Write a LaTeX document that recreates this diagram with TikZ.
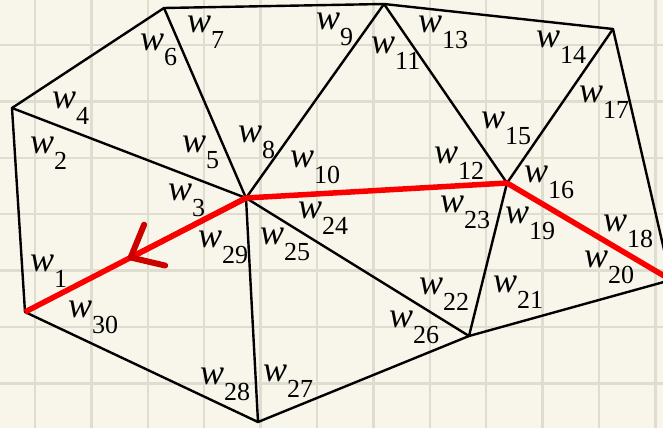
\documentclass[tikz,border=0pt]{standalone}
\usepackage{fontspec}
\setmainfont{Liberation Serif}
\usepackage{tikz}
\usetikzlibrary{arrows.meta,calc}
\definecolor{bgcream}{RGB}{248,246,234}
\definecolor{gridgray}{RGB}{222,221,208}
\definecolor{pathred}{RGB}{250,0,0}
\definecolor{arrowred}{RGB}{205,0,0}
\newcommand{\wl}[1]{\textit{w}\raisebox{-16pt}{\fontsize{26}{26}\selectfont #1}}

\begin{document}
\begin{tikzpicture}[x=1pt, y=-1pt]
    \tikzset{
        gridline/.style={draw=gridgray, line width=2.5pt},
        edge/.style={draw=black, line width=2.4pt, line cap=round, line join=round},
        redpath/.style={draw=pathred, line width=5.5pt, line join=round},
        wlabel/.style={
            anchor=base west, inner sep=0pt,
            font=\fontsize{36}{36}\selectfont
        },
    }

    % ==== Background and grid ====
    \useasboundingbox (0,0) rectangle (663,428);
    \fill[bgcream] (0,0) rectangle (663,428);
    \clip (0,0) rectangle (663,428);
    \foreach \gx in {0,...,11}
        \draw[gridline] ({35+56.4*\gx},0) -- ({35+56.4*\gx},428);
    \foreach \gy in {0,...,6}
        \draw[gridline] (0,{45+56.4*\gy}) -- (663,{45+56.4*\gy});

    % ==== Vertices ====
    \coordinate (A) at (12,108);
    \coordinate (B) at (164,8);
    \coordinate (C) at (384,4);
    \coordinate (D) at (613,29);
    \coordinate (E) at (671,280);
    \coordinate (F) at (246,198);
    \coordinate (G) at (507,183);
    \coordinate (H) at (25,312);
    \coordinate (I) at (258,422);
    \coordinate (J) at (469,336);
    \coordinate (M) at ($(F)!0.534!(H)$);

    % ==== Black edges ====
    \draw[edge] (A) -- (B) -- (C) -- (D) -- (E) -- (J) -- (I) -- (H) -- cycle;
    \draw[edge] (A) -- (F);
    \draw[edge] (B) -- (F);
    \draw[edge] (C) -- (F);
    \draw[edge] (C) -- (G);
    \draw[edge] (D) -- (G);
    \draw[edge] (G) -- (J);
    \draw[edge] (F) -- (J);
    \draw[edge] (F) -- (I);

    % ==== Red path ====
    \draw[redpath] (H) -- (F) -- (G) -- (E);
    \draw[redpath, -{Straight Barb[length=27pt, width=46pt, round, color=arrowred, line width=6pt]}] (F) -- (M);

    % ==== Weights ====
    \node[wlabel] (l1) at (30,271) {\wl{1}};
    \node[wlabel] (l2) at (30,153) {\wl{2}};
    \node[wlabel] (l3) at (168,200) {\wl{3}};
    \node[wlabel] (l4) at (52,108) {\wl{4}};
    \node[wlabel] (l5) at (182,152) {\wl{5}};
    \node[wlabel] (l6) at (140,50) {\wl{6}};
    \node[wlabel] (l7) at (187,33) {\wl{7}};
    \node[wlabel] (l8) at (238,142) {\wl{8}};
    \node[wlabel] (l9) at (316,30) {\wl{9}};
    \node[wlabel] (l10) at (290,167) {\wl{10}};
    \node[wlabel] (l11) at (371,53) {\wl{11}};
    \node[wlabel] (l12) at (434,163) {\wl{12}};
    \node[wlabel] (l13) at (418,33) {\wl{13}};
    \node[wlabel] (l14) at (536,48) {\wl{14}};
    \node[wlabel] (l15) at (481,128) {\wl{15}};
    \node[wlabel] (l16) at (524,182) {\wl{16}};
    \node[wlabel] (l17) at (579,102) {\wl{17}};
    \node[wlabel] (l18) at (603,231) {\wl{18}};
    \node[wlabel] (l19) at (505,223) {\wl{19}};
    \node[wlabel] (l20) at (584,267) {\wl{20}};
    \node[wlabel] (l21) at (493,292) {\wl{21}};
    \node[wlabel] (l22) at (419,294) {\wl{22}};
    \node[wlabel] (l23) at (440,212) {\wl{23}};
    \node[wlabel] (l24) at (298,218) {\wl{24}};
    \node[wlabel] (l25) at (260,244) {\wl{25}};
    \node[wlabel] (l26) at (389,327) {\wl{26}};
    \node[wlabel] (l27) at (263,381) {\wl{27}};
    \node[wlabel] (l28) at (200,384) {\wl{28}};
    \node[wlabel] (l29) at (198,247) {\wl{29}};
    \node[wlabel] (l30) at (68,317) {\wl{30}};
\end{tikzpicture}
\end{document}
